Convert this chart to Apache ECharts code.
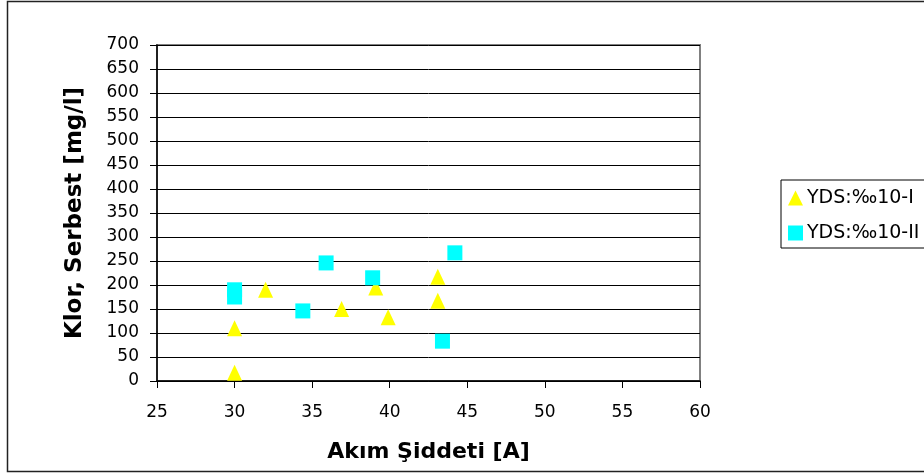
<!DOCTYPE html>
<html>
<head>
<meta charset="utf-8">
<script src="https://cdn.jsdelivr.net/npm/echarts@6/dist/echarts.min.js"></script>
<style>
html,body{margin:0;padding:0;background:#fff;}
#chart{width:924px;height:475px;}
</style>
</head>
<body>
<div id="chart"></div>
<script>
// Series 1: YDS:‰10-I (triangles)
var seriesINames = 'YDS:‰10-I';
var triX = [30, 30, 32, 36.9, 39.1, 39.9, 43.1, 43.1];
var triY = [17, 110, 190, 150, 195, 133, 217, 167];
// Series 2: YDS:‰10-II (squares)
var seriesIINames = 'YDS:‰10-II';
var sqX = [30, 30, 34.4, 35.9, 38.9, 43.4, 44.2];
var sqY = [190, 175, 146, 246, 215, 83, 267];
// Axis ticks
var xTicks = [25, 30, 35, 40, 45, 50, 55, 60];
var yTicks = [0, 50, 100, 150, 200, 250, 300, 350, 400, 450, 500, 550, 600, 650, 700];
var xTitle = 'Akım Şiddeti [A]';
var yTitle = 'Klor, Serbest [mg/l]';

function pairs(xs, ys){ return xs.map(function(x,i){ return [x, ys[i]]; }); }

var FONT = 'DejaVu Sans';
var chart = echarts.init(document.getElementById('chart'), null, {renderer:'canvas'});
chart.setOption({
  animation: false,
  backgroundColor: '#fff',
  graphic: [{
    type: 'rect', z: -10,
    shape: {x: 7.5, y: 1.5, width: 1000, height: 470},
    style: {fill: 'none', stroke: '#222', lineWidth: 1.5}
  }],
  grid: {
    left: 157, top: 45, right: 224, bottom: 94,
    show: true, borderColor: '#808080', borderWidth: 2, backgroundColor: 'transparent'
  },
  legend: {
    orient: 'vertical',
    left: 781, top: 180,
    padding: [8, 30, 5, 7],
    itemGap: 15,
    itemWidth: 15, itemHeight: 15,
    borderColor: '#000', borderWidth: 1,
    textStyle: {fontFamily: FONT, fontSize: 19, color: '#000', lineHeight: 20, padding: [0,0,0,-1]},
    data: [{name: seriesINames, icon: 'triangle'}, {name: seriesIINames, icon: 'rect'}]
  },
  xAxis: {
    type: 'value', min: xTicks[0], max: xTicks[xTicks.length-1], interval: 5,
    name: xTitle, nameLocation: 'middle', nameGap: 60,
    nameTextStyle: {fontFamily: FONT, fontSize: 22, fontWeight: 'bold', color: '#000'},
    axisLine: {show: true, onZero: false, lineStyle: {color: '#000', width: 1.5}},
    axisTick: {show: true, length: 7, inside: false, lineStyle: {color: '#000'}},
    axisLabel: {fontFamily: FONT, fontSize: 17, color: '#000', margin: 23},
    splitLine: {show: false}
  },
  yAxis: {
    type: 'value', min: yTicks[0], max: yTicks[yTicks.length-1], interval: 50,
    name: yTitle, nameLocation: 'middle', nameGap: 70, nameRotate: 90,
    nameTextStyle: {fontFamily: FONT, fontSize: 23, fontWeight: 'bold', color: '#000'},
    axisLine: {show: true, lineStyle: {color: '#000', width: 1.5}},
    axisTick: {show: true, length: 7, inside: false, lineStyle: {color: '#000'}},
    axisLabel: {fontFamily: FONT, fontSize: 17, color: '#000', margin: 18},
    splitLine: {show: true, lineStyle: {color: '#000', width: 1}}
  },
  series: [{
    name: seriesINames, type: 'scatter', symbol: 'triangle', symbolSize: [15, 16],
    itemStyle: {color: '#FFFF00', opacity: 1},
    data: pairs(triX, triY), z: 3
  }, {
    name: seriesIINames, type: 'scatter', symbol: 'rect', symbolSize: 15,
    itemStyle: {color: '#00FFFF', opacity: 1},
    data: pairs(sqX, sqY), z: 4
  }]
});
</script>
</body>
</html>
